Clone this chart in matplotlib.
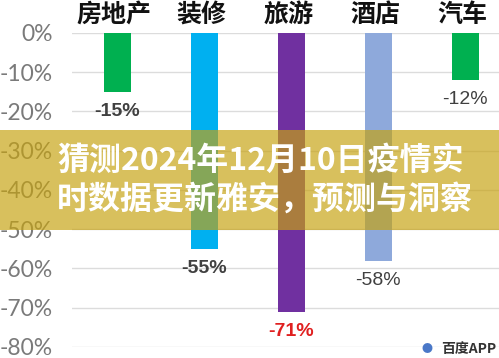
import matplotlib.pyplot as plt
from matplotlib.patches import Rectangle

# 数据
categorias = ['房地产', '装修', '旅游', '酒店', '汽车']
valores = [-15, -55, -71, -58, -12]
cores = ['#00B050', '#00B0F0', '#7030A0', '#8EA9DB', '#00B050']
rotulos = ['-15%', '-55%', '-71%', '-58%', '-12%']
cores_rotulo = ['#404040', '#404040', '#E02020', '#404040', '#404040']
pesos_rotulo = ['bold', 'bold', 'bold', 'normal', 'normal']
ticks_y = [0, -10, -20, -30, -40, -50, -60, -70, -80]
titulo = '猜测2024年12月10日疫情实\n时数据更新雅安，预测与洞察'

plt.rcParams['font.family'] = ['Noto Sans CJK SC', 'DejaVu Sans']

fig = plt.figure(figsize=(4.99, 3.58), dpi=100)
ax = fig.add_axes([0.144, 0.031, 0.856, 0.877])

x = list(range(len(categorias)))
ax.bar(x, valores, width=0.31, color=cores, zorder=3)

ax.set_xlim(-0.52, 4.39)
ax.set_ylim(-80, 0)
ax.set_yticks(ticks_y)
ax.set_yticklabels([f'{t}%' for t in ticks_y], fontsize=16.5,
                   color='#7a7a7a', family=['Lato', 'DejaVu Sans'],
                   fontweight='normal')
ax.tick_params(axis='y', length=0, pad=14)
ax.set_xticks([])
ax.grid(axis='y', color='#dcdcdc', linewidth=1, zorder=0)
for s in ax.spines.values():
    s.set_visible(False)

# categorias no topo
for xi, cat in zip(x, categorias):
    ax.annotate(cat, (xi, 0), xytext=(-2, 13), textcoords='offset points',
                ha='center', va='center', fontsize=18, fontweight='bold',
                color='#111111')

# rótulos dos valores
for xi, v, r, c, w in zip(x, valores, rotulos, cores_rotulo, pesos_rotulo):
    ax.annotate(r, (xi, v), xytext=(0, -14), textcoords='offset points',
                ha='center', va='center', fontsize=14, fontweight=w, color=c,
                family=['Liberation Sans', 'DejaVu Sans'])

# faixa do título
fig.patches.append(Rectangle((0, 1 - 230 / 358), 1, 100 / 358,
                             transform=fig.transFigure,
                             facecolor='#C6A210', alpha=0.68, zorder=5))
fig.text(57 / 499, 1 - 180 / 358, titulo, ha='left', va='center',
         fontsize=23, fontweight='bold', color='white', linespacing=1.25,
         zorder=6)

# marca d'água
fig.text(0.995, 1 - 349 / 358, '百度APP', ha='right', va='center',
         fontsize=10, fontweight='bold', color='#333333')
fig.text(0.855, 1 - 349 / 358, '●', ha='center', va='center',
         fontsize=8, color='#4a78c8')

plt.savefig('out.png', dpi=100)
